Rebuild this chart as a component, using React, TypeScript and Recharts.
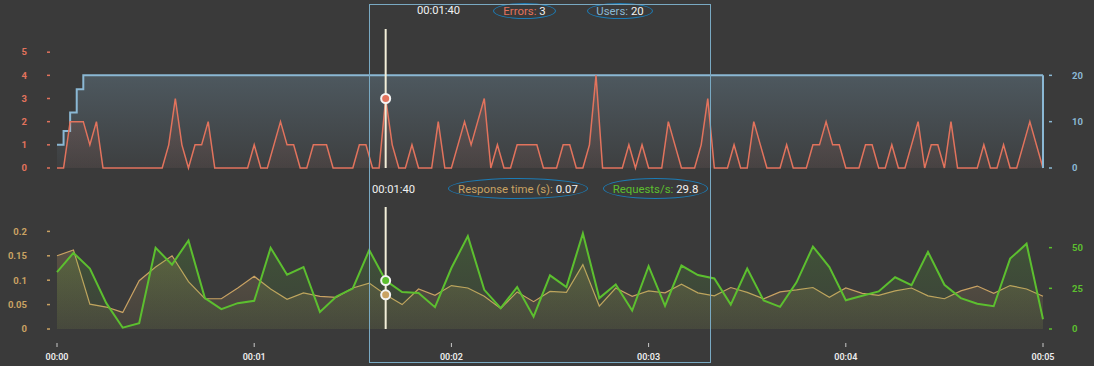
import React from 'react';
import { ComposedChart, Area, XAxis, YAxis, ReferenceLine, ReferenceDot } from 'recharts';

const BG = '#3a3a3a';
const ERR_COLOR = '#e2735d';
const USERS_COLOR = '#8bb8d4';
const RESP_COLOR = '#c9a263';
const REQ_COLOR = '#5cbf2f';
const CURSOR_COLOR = '#f3efd9';
const FONT = 'Roboto, "DejaVu Sans", sans-serif';

// Errors sampled every 2 seconds (0..300 s)
const errorStepSec = 2;
const errors = [
  0, 0, 2, 2, 2, 1, 2, 0, 0, 0, 0, 0, 0, 0, 0, 0, 0, 1, 3, 1,
  0, 1, 1, 2, 0, 0, 0, 0, 0, 0, 1, 0, 0, 1, 2, 1, 1, 0, 0, 1,
  1, 1, 0, 0, 0, 0, 1, 1, 0, 0, 3, 1, 0, 0, 1, 0, 0, 0, 2, 0,
  0, 1, 2, 1, 2, 3, 0, 1, 0, 0, 1, 1, 1, 1, 0, 0, 0, 1, 1, 0,
  0, 1, 4, 0, 0, 0, 0, 1, 0, 1, 0, 0, 0, 2, 1, 0, 0, 0, 1, 3,
  0, 0, 0, 1, 0, 0, 2, 1, 0, 0, 0, 1, 0, 0, 0, 1, 1, 2, 1, 1,
  0, 0, 0, 1, 1, 0, 0, 1, 0, 0, 1, 2, 0, 1, 1, 0, 2, 0, 0, 0,
  0, 1, 0, 0, 1, 0, 0, 1, 2, 1, 0,
];

// Users: step points (time in seconds, users)
const userTimes = [0, 2, 4, 6, 8, 300];
const userCounts = [5, 8, 12, 17, 20, 20];

// Response time and requests/s sampled every 5 seconds (0..300 s)
const metricStepSec = 5;
const responseTimes = [
  0.150, 0.162, 0.051, 0.045, 0.034, 0.099, 0.127, 0.150, 0.097, 0.062,
  0.062, 0.084, 0.108, 0.082, 0.061, 0.074, 0.067, 0.065, 0.084, 0.094,
  0.070, 0.050, 0.082, 0.069, 0.089, 0.084, 0.067, 0.042, 0.076, 0.056,
  0.077, 0.075, 0.132, 0.047, 0.084, 0.067, 0.078, 0.074, 0.092, 0.074,
  0.068, 0.085, 0.075, 0.062, 0.076, 0.080, 0.085, 0.065, 0.084, 0.073,
  0.069, 0.078, 0.084, 0.068, 0.062, 0.078, 0.088, 0.073, 0.089, 0.082,
  0.067,
];
const requestsPerSec = [
  35.0, 46.8, 37.1, 15.9, 0.8, 3.5, 49.9, 39.6, 54.4, 19.0,
  12.2, 15.9, 17.3, 49.9, 33.4, 38.1, 10.5, 20.0, 24.9, 48.5,
  29.8, 22.7, 22.1, 13.4, 37.5, 57.1, 24.1, 12.8, 25.8, 7.6,
  33.0, 25.8, 58.8, 19.0, 27.4, 11.3, 38.6, 14.2, 39.0, 33.2,
  31.1, 15.0, 37.1, 17.5, 13.6, 28.7, 50.7, 38.1, 17.7, 20.4,
  23.1, 31.8, 27.0, 47.4, 27.2, 19.0, 15.5, 14.0, 43.3, 52.4,
  6.0,
];

const timeTicks = [0, 60, 120, 180, 240, 300];
const timeLabels = ['00:00', '00:01', '00:02', '00:03', '00:04', '00:05'];
const errTicks = [0, 1, 2, 3, 4, 5];
const userTicks = [0, 10, 20];
const respTicks = [0, 0.05, 0.1, 0.15, 0.2];
const respTickLabels = ['0', '0.05', '0.1', '0.15', '0.2'];
const reqTicks = [0, 25, 50];

const cursorTime = 100;
const cursorLabel = '00:01:40';
const selectionStart = 95;
const selectionEnd = 199;

// Build tables
const topRows: any[] = errors.map((e, i) => ({ t: i * errorStepSec, errors: e }));
userTimes.forEach((t, k) => {
  const row = topRows.find((r) => r.t === t);
  if (row) row.users = userCounts[k];
});
const bottomRows = responseTimes.map((r, i) => ({ t: i * metricStepSec, resp: r, req: requestsPerSec[i] }));

const cursorErr = errors[cursorTime / errorStepSec];
const cursorUsers = userCounts[userTimes.filter((t) => t <= cursorTime).length - 1];
const cursorResp = responseTimes[cursorTime / metricStepSec];
const cursorReq = requestsPerSec[cursorTime / metricStepSec];

const LeftTick = (color: string, fmt?: (v: any, i: number) => string) => (props: any) => {
  const { x, y, payload, index } = props;
  return (
    <g>
      <line x1={x - 10} x2={x - 7} y1={y} y2={y} stroke={color} strokeWidth={1.5} />
      <text x={x - 30} y={y} dy="0.35em" textAnchor="end" fill={color} fontSize={9.5} fontWeight={700} fontFamily={FONT}>
        {fmt ? fmt(payload.value, index) : String(payload.value)}
      </text>
    </g>
  );
};
const RightTick = (color: string) => (props: any) => {
  const { x, y, payload } = props;
  return (
    <g>
      <line x1={x + 6} x2={x + 9} y1={y} y2={y} stroke={color} strokeWidth={1.5} />
      <text x={x + 29} y={y} dy="0.35em" textAnchor="start" fill={color} fontSize={9.5} fontWeight={700} fontFamily={FONT}>
        {String(payload.value)}
      </text>
    </g>
  );
};
const TimeTick = (props: any) => {
  const { x, y, payload, index } = props;
  return (
    <g>
      <line x1={x} x2={x} y1={y + 14} y2={y + 18} stroke="#c8c8c8" strokeWidth={1} />
      <text x={x} y={y + 31} textAnchor="middle" fill="#ececec" fontSize={9} fontWeight={600} fontFamily={FONT}>
        {timeLabels[timeTicks.indexOf(payload.value)] ?? timeLabels[index]}
      </text>
    </g>
  );
};

const Ellipse = ({ left, top, width, height, children }: any) => (
  <div
    style={{
      position: 'absolute', left, top, width, height, boxSizing: 'border-box',
      border: '1px solid #1c7cb6', borderRadius: '50%', display: 'flex',
      alignItems: 'center', justifyContent: 'center', fontSize: 11.4, fontFamily: FONT, whiteSpace: 'nowrap',
    }}
  >
    {children}
  </div>
);

export default function App() {
  const plotLeft = 57;
  const plotWidth = 986;
  const sx = (t: number) => plotLeft + (t / 300) * plotWidth;
  return (
    <div style={{ position: 'absolute', left: 0, top: 0, width: 1094, height: 366, background: BG, overflow: 'hidden', fontFamily: FONT }}>
      <div style={{ position: 'absolute', left: 0, top: 0 }}>
        <ComposedChart width={1094} height={180} data={topRows} margin={{ top: 29, right: 0, bottom: 12, left: 0 }}>
          <defs>
            <linearGradient id="usersFill" x1="0" y1="0" x2="0" y2="1">
              <stop offset="0%" stopColor={USERS_COLOR} stopOpacity={0.24} />
              <stop offset="100%" stopColor={USERS_COLOR} stopOpacity={0.04} />
            </linearGradient>
            <linearGradient id="errFill" x1="0" y1="0" x2="0" y2="1">
              <stop offset="0%" stopColor={ERR_COLOR} stopOpacity={0.2} />
              <stop offset="100%" stopColor={ERR_COLOR} stopOpacity={0.06} />
            </linearGradient>
          </defs>
          <XAxis dataKey="t" type="number" domain={[0, 300]} hide />
          <YAxis yAxisId="err" orientation="left" width={57} domain={[0, 6]} ticks={errTicks} interval={0}
            axisLine={false} tickLine={false} tickSize={0} tickMargin={0} tick={LeftTick(ERR_COLOR)} />
          <YAxis yAxisId="users" orientation="right" width={51} domain={[0, 30]} ticks={userTicks} interval={0}
            axisLine={false} tickLine={false} tickSize={0} tickMargin={0} tick={RightTick(USERS_COLOR)} />
          <Area yAxisId="users" dataKey="users" type="stepAfter" connectNulls stroke={USERS_COLOR} strokeWidth={2}
            fill="url(#usersFill)" fillOpacity={1} isAnimationActive={false} dot={false} activeDot={false} />
          <ReferenceLine yAxisId="users" segment={[{ x: userTimes[userTimes.length - 1], y: 0 }, { x: userTimes[userTimes.length - 1], y: userCounts[userCounts.length - 1] }]}
            stroke={USERS_COLOR} strokeWidth={2} />
          <Area yAxisId="err" dataKey="errors" type="linear" stroke={ERR_COLOR} strokeWidth={1.5}
            fill="url(#errFill)" fillOpacity={1} isAnimationActive={false} dot={false} activeDot={false} />
          <ReferenceLine yAxisId="err" x={cursorTime} stroke={CURSOR_COLOR} strokeWidth={2} />
          <ReferenceDot yAxisId="err" x={cursorTime} y={cursorErr} r={4.5} fill={ERR_COLOR} stroke="#f4f4f4" strokeWidth={2} />
        </ComposedChart>
      </div>
      <div style={{ position: 'absolute', left: 0, top: 180 }}>
        <ComposedChart width={1094} height={186} data={bottomRows} margin={{ top: 27, right: 0, bottom: 0, left: 0 }}>
          <defs>
            <linearGradient id="respFill" x1="0" y1="0" x2="0" y2="1">
              <stop offset="0%" stopColor={RESP_COLOR} stopOpacity={0.22} />
              <stop offset="100%" stopColor={RESP_COLOR} stopOpacity={0.08} />
            </linearGradient>
            <linearGradient id="reqFill" x1="0" y1="0" x2="0" y2="1">
              <stop offset="0%" stopColor={REQ_COLOR} stopOpacity={0.2} />
              <stop offset="100%" stopColor={REQ_COLOR} stopOpacity={0.05} />
            </linearGradient>
          </defs>
          <XAxis dataKey="t" type="number" domain={[0, 300]} ticks={timeTicks} interval={0} height={37}
            axisLine={false} tickLine={false} tickSize={0} tickMargin={0} tick={TimeTick} />
          <YAxis yAxisId="resp" orientation="left" width={57} domain={[0, 0.25]} ticks={respTicks} interval={0}
            axisLine={false} tickLine={false} tickSize={0} tickMargin={0}
            tick={LeftTick(RESP_COLOR, (v: any) => respTickLabels[respTicks.indexOf(v)] ?? String(v))} />
          <YAxis yAxisId="req" orientation="right" width={51} domain={[0, 75]} ticks={reqTicks} interval={0}
            axisLine={false} tickLine={false} tickSize={0} tickMargin={0} tick={RightTick(REQ_COLOR)} />
          <Area yAxisId="resp" dataKey="resp" type="linear" stroke={RESP_COLOR} strokeWidth={1.2}
            fill="url(#respFill)" fillOpacity={1} isAnimationActive={false} dot={false} activeDot={false} />
          <Area yAxisId="req" dataKey="req" type="linear" stroke={REQ_COLOR} strokeWidth={2}
            fill="url(#reqFill)" fillOpacity={1} isAnimationActive={false} dot={false} activeDot={false} />
          <ReferenceLine yAxisId="resp" x={cursorTime} stroke={CURSOR_COLOR} strokeWidth={2} />
          <ReferenceDot yAxisId="req" x={cursorTime} y={cursorReq} r={4.5} fill={REQ_COLOR} stroke="#f4f4f4" strokeWidth={2} />
          <ReferenceDot yAxisId="resp" x={cursorTime} y={cursorResp} r={4.5} fill={RESP_COLOR} stroke="#f4f4f4" strokeWidth={2} />
        </ComposedChart>
      </div>

      {/* Top readout */}
      <div style={{ position: 'absolute', left: 417, top: 4, height: 14, lineHeight: '14px', fontSize: 11.2, color: '#f2f2f2' }}>{cursorLabel}</div>
      <Ellipse left={493} top={3} width={63} height={16}>
        <span style={{ color: ERR_COLOR }}>Errors:</span><span style={{ color: '#f2f2f2' }}>&nbsp;{cursorErr}</span>
      </Ellipse>
      <Ellipse left={587} top={3} width={66} height={16}>
        <span style={{ color: USERS_COLOR }}>Users:</span><span style={{ color: '#f2f2f2' }}>&nbsp;{cursorUsers}</span>
      </Ellipse>

      {/* Bottom readout */}
      <div style={{ position: 'absolute', left: 372, top: 183, height: 14, lineHeight: '14px', fontSize: 11.2, color: '#f2f2f2' }}>{cursorLabel}</div>
      <Ellipse left={448} top={178} width={140} height={21}>
        <span style={{ color: RESP_COLOR }}>Response time (s):</span><span style={{ color: '#f2f2f2' }}>&nbsp;{cursorResp.toFixed(2)}</span>
      </Ellipse>
      <Ellipse left={603} top={178} width={105} height={21}>
        <span style={{ color: REQ_COLOR }}>Requests/s:</span><span style={{ color: '#f2f2f2' }}>&nbsp;{cursorReq.toFixed(1)}</span>
      </Ellipse>

      {/* Selection box */}
      <div style={{
        position: 'absolute', left: Math.round(sx(selectionStart)) - 0.5, top: 4,
        width: Math.round(sx(selectionEnd) - sx(selectionStart)), height: 359,
        border: '1px solid #79a9c2', boxSizing: 'border-box', pointerEvents: 'none',
      }} />
    </div>
  );
}
